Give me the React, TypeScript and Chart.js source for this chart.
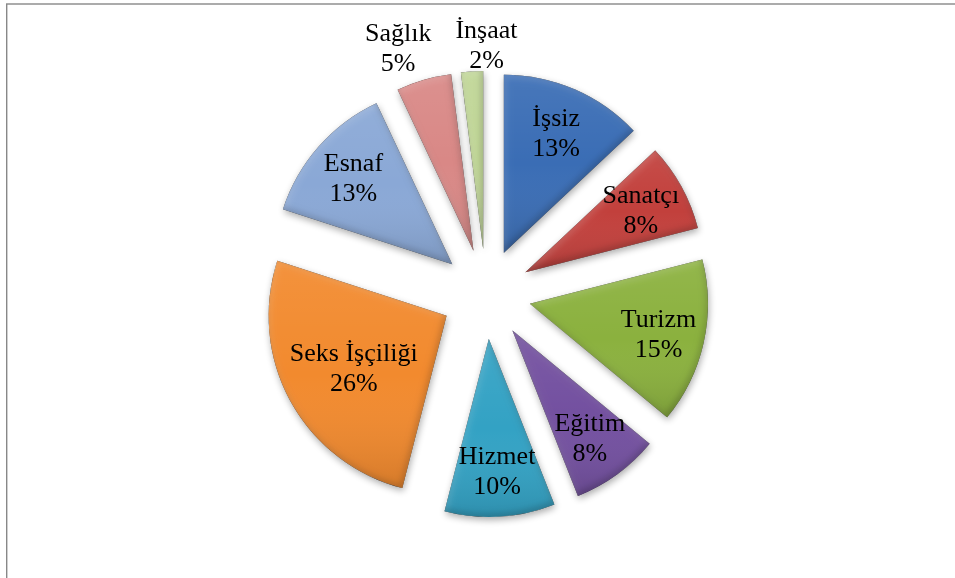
import React, { useEffect, useRef } from 'react';
import { Chart, registerables } from 'chart.js';

Chart.register(...registerables);

const categories = ['İşsiz', 'Sanatçı', 'Turizm', 'Eğitim', 'Hizmet', 'Seks İşçiliği', 'Esnaf', 'Sağlık', 'İnşaat'];
const values = [13, 8, 15, 8, 10, 26, 13, 5, 2];
const percentLabels = ['13%', '8%', '15%', '8%', '10%', '26%', '13%', '5%', '2%'];
const sliceColors = ['#3A6DB5', '#C2403C', '#8BB13E', '#7350A0', '#33A2C4', '#F28A2E', '#8AA8D6', '#D98886', '#C0D696'];

const EXPLODE = 45;
const RADIUS = 178;
const LINE_H = 30;
const FONT = '26px "Liberation Serif", "Times New Roman", serif';

function slicePath(ctx: CanvasRenderingContext2D, x: number, y: number, r: number, s: number, e: number) {
  ctx.moveTo(x, y);
  ctx.arc(x, y, r, s, e);
  ctx.closePath();
}

const explodedPiePlugin = {
  id: 'explodedPie',
  beforeDraw(chart: any) {
    const ctx: CanvasRenderingContext2D = chart.ctx;
    ctx.save();
    ctx.fillStyle = '#ffffff';
    ctx.fillRect(0, 0, chart.width, chart.height);
    ctx.strokeStyle = '#888888';
    ctx.lineWidth = 1.4;
    ctx.strokeRect(6.7, 4, 3000, 3000);
    ctx.restore();
  },
  beforeDatasetDraw(chart: any, args: any) {
    const ctx: CanvasRenderingContext2D = chart.ctx;
    const meta = args.meta;
    const total = values.reduce((a, b) => a + b, 0);
    const inside: any[] = [];
    const outside: any[] = [];
    meta.data.forEach((el: any, i: number) => {
      const x = el.x, y = el.y, s = el.startAngle, e = el.endAngle, R = el.outerRadius;
      const mid = (s + e) / 2;
      const ux = Math.cos(mid), uy = Math.sin(mid);
      const dx = ux * EXPLODE, dy = uy * EXPLODE;
      ctx.save();
      ctx.translate(dx, dy);
      // drop shadow + base fill drawn by the Chart.js arc element
      ctx.save();
      ctx.shadowColor = 'rgba(0,0,0,0.33)';
      ctx.shadowBlur = 7;
      ctx.shadowOffsetX = 1;
      ctx.shadowOffsetY = 3;
      el.draw(ctx, chart.chartArea);
      ctx.restore();

      // bounding box of the slice
      let minY = y, maxY = y;
      for (let k = 0; k <= 24; k++) {
        const a = s + (e - s) * k / 24;
        const py = y + Math.sin(a) * R;
        minY = Math.min(minY, py);
        maxY = Math.max(maxY, py);
      }

      ctx.save();
      ctx.beginPath();
      slicePath(ctx, x, y, R, s, e);
      ctx.clip();
      const g = ctx.createLinearGradient(0, minY, 0, maxY);
      g.addColorStop(0, 'rgba(255,255,255,0.07)');
      g.addColorStop(0.5, 'rgba(255,255,255,0)');
      g.addColorStop(1, 'rgba(0,0,0,0.12)');
      ctx.fillStyle = g;
      ctx.fillRect(x - R - 5, minY - 5, 2 * R + 10, maxY - minY + 10);

      // inner highlight (top-left edges)
      ctx.beginPath();
      ctx.rect(-3000, -3000, 8000, 8000);
      slicePath(ctx, x, y, R, s, e);
      ctx.fillStyle = 'rgba(0,0,0,0.4)';
      ctx.shadowColor = 'rgba(255,255,255,0.35)';
      ctx.shadowBlur = 6;
      ctx.shadowOffsetX = 2;
      ctx.shadowOffsetY = 3;
      ctx.fill('evenodd');
      // inner shade (bottom-right edges)
      ctx.shadowColor = 'rgba(0,0,0,0.45)';
      ctx.shadowBlur = 6;
      ctx.shadowOffsetX = -2;
      ctx.shadowOffsetY = -3;
      ctx.fill('evenodd');
      ctx.restore();
      ctx.restore();

      const apexX = x + dx, apexY = y + dy;
      const share = values[i] / total;
      if (share < 0.06) {
        const ox = apexX + ux * R, oy = apexY + uy * R;
        outside.push({ i, ox, oy, ux, uy });
      } else {
        const circ = e - s;
        let d;
        if (circ > Math.PI / 2) {
          const al = circ / 2;
          d = (2 * R * Math.sin(al)) / (3 * al);
        } else {
          d = 0.74 * R;
        }
        inside.push({ i, cx: apexX + ux * d, cy: apexY + uy * d });
      }
    });

    ctx.save();
    ctx.font = FONT;
    ctx.fillStyle = '#000000';
    ctx.textAlign = 'center';
    ctx.textBaseline = 'alphabetic';
    outside.forEach((o) => {
      o.w = Math.max(ctx.measureText(categories[o.i]).width, ctx.measureText(percentLabels[o.i]).width);
      const k = Math.abs(o.ux) * o.w / 2 + Math.abs(o.uy) * LINE_H * 0.85;
      o.cx = o.ox + o.ux * k;
      o.cy = o.oy + o.uy * k;
    });
    outside.sort((a, b) => a.cx - b.cx);
    for (let k = 1; k < outside.length; k++) {
      const a = outside[k - 1], b = outside[k];
      const need = a.w / 2 + b.w / 2 + 24;
      const gap = b.cx - a.cx;
      if (gap < need) {
        const push = (need - gap) / 2;
        a.cx -= push;
        b.cx += push;
      }
    }
    [...inside, ...outside].forEach((l) => {
      ctx.fillText(categories[l.i], l.cx, l.cy - LINE_H / 2 + 9);
      ctx.fillText(percentLabels[l.i], l.cx, l.cy + LINE_H / 2 + 9);
    });
    ctx.restore();
    return false;
  },
};

export default function App() {
  const canvasRef = useRef<HTMLCanvasElement | null>(null);
  useEffect(() => {
    const canvas = canvasRef.current;
    if (!canvas) return;
    const chart = new Chart(canvas, {
      type: 'pie',
      data: {
        labels: categories,
        datasets: [
          {
            data: values,
            backgroundColor: sliceColors,
            borderWidth: 0,
            offset: 0,
          },
        ],
      },
      options: {
        responsive: false,
        animation: false,
        radius: RADIUS,
        layout: { padding: { left: 17, top: 10, right: 0, bottom: 0 } },
        plugins: {
          legend: { display: false },
          tooltip: { enabled: false },
        },
        events: [],
      } as any,
      plugins: [explodedPiePlugin],
    });
    return () => chart.destroy();
  }, []);
  return (
    <div style={{ position: 'fixed', left: 0, top: 0, width: 955, height: 578, background: '#fff' }}>
      <canvas ref={canvasRef} width={955} height={578} style={{ display: 'block' }} />
    </div>
  );
}
